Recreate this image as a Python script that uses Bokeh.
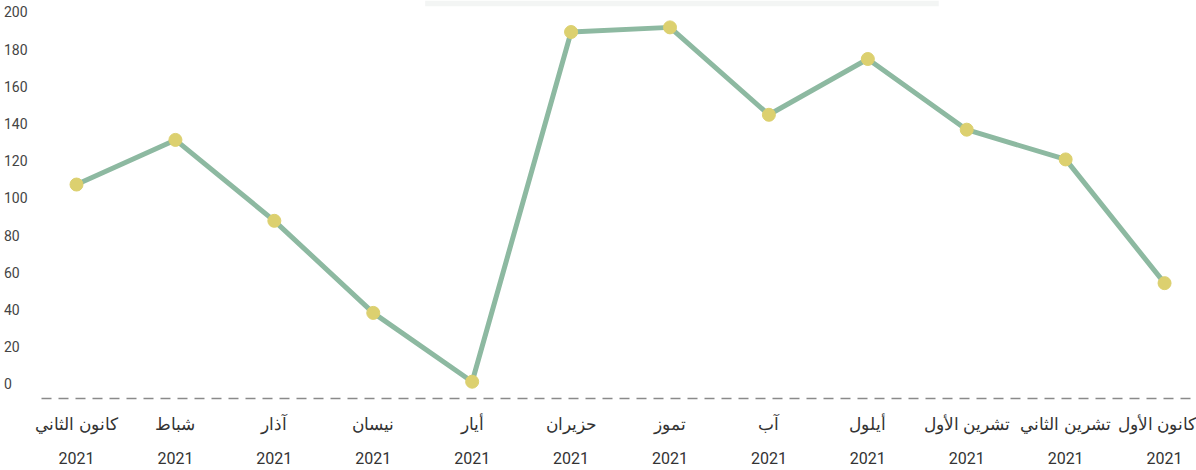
from bokeh.plotting import figure
from bokeh.models import LinearAxis, FixedTicker, BoxAnnotation, Range1d
from bokeh.embed import file_html
from bokeh.resources import INLINE

months = ["كانون الثاني", "شباط", "آذار", "نيسان", "أيار", "حزيران",
          "تموز", "آب", "أيلول", "تشرين الأول", "تشرين الثاني", "كانون الأول"]
years = ["2021", "2021", "2021", "2021", "2021", "2021",
         "2021", "2021", "2021", "2021", "2021", "2021"]
values = [107.5, 131.5, 88, 38.5, 1.5, 189.5, 192, 145, 175, 137, 121, 54.5]
y_ticks = [0, 20, 40, 60, 80, 100, 120, 140, 160, 180, 200]

x = list(range(len(months)))
x_start, x_end = -0.354, 11.323
y_start, y_end = -7.53, 206.45

p = figure(width=1196, height=470, output_backend="svg", toolbar_location=None,
           x_range=Range1d(x_start, x_end), y_range=Range1d(y_start, y_end),
           x_axis_location=None, y_axis_location=None,
           min_border_left=40, min_border_right=0, min_border_top=0,
           min_border_bottom=72)
p.outline_line_color = None
p.grid.visible = False
p.background_fill_color = "white"

# faint box at the top
p.add_layout(BoxAnnotation(left=3.525, right=8.717, bottom=203.3, top=y_end,
                           fill_color="#f3f5f4", fill_alpha=1, line_color=None))

ax1 = LinearAxis(ticker=FixedTicker(ticks=x),
                 major_label_overrides={i: m for i, m in zip(x, months)})
ax1.axis_line_color = "#8a8a8a"
ax1.axis_line_width = 1.5
ax1.axis_line_dash = "10 7"
ax1.major_tick_line_color = None
ax1.minor_tick_line_color = None
ax1.major_label_standoff = 7
ax1.major_label_text_font = "Noto Sans"
ax1.major_label_text_font_size = "17px"
ax1.major_label_text_color = "#333333"
p.add_layout(ax1, "below")

ax2 = LinearAxis(ticker=FixedTicker(ticks=x),
                 major_label_overrides={i: y for i, y in zip(x, years)})
ax2.axis_line_color = None
ax2.major_tick_line_color = None
ax2.minor_tick_line_color = None
ax2.major_label_standoff = 8
ax2.major_label_text_font = "Roboto"
ax2.major_label_text_font_size = "16px"
ax2.major_label_text_color = "#333333"
p.add_layout(ax2, "below")

# y axis: labels left-aligned in the reference; pad with figure spaces
pad = "\u2007"
ylab = {v: str(v) + pad * (3 - len(str(v))) for v in y_ticks}
yax = LinearAxis(ticker=FixedTicker(ticks=y_ticks), major_label_overrides=ylab)
yax.axis_line_color = None
yax.major_tick_line_color = None
yax.minor_tick_line_color = None
yax.major_label_standoff = 8
yax.major_label_text_font = "Roboto"
yax.major_label_text_font_size = "14px"
yax.major_label_text_color = "#444444"
p.add_layout(yax, "left")

p.line(x, values, line_width=5, line_color="#8db9a1")
p.scatter(x, values, size=13, fill_color="#dcd06f", line_color="#dcd06f")

open("out.html", "w").write(file_html(p, INLINE))
